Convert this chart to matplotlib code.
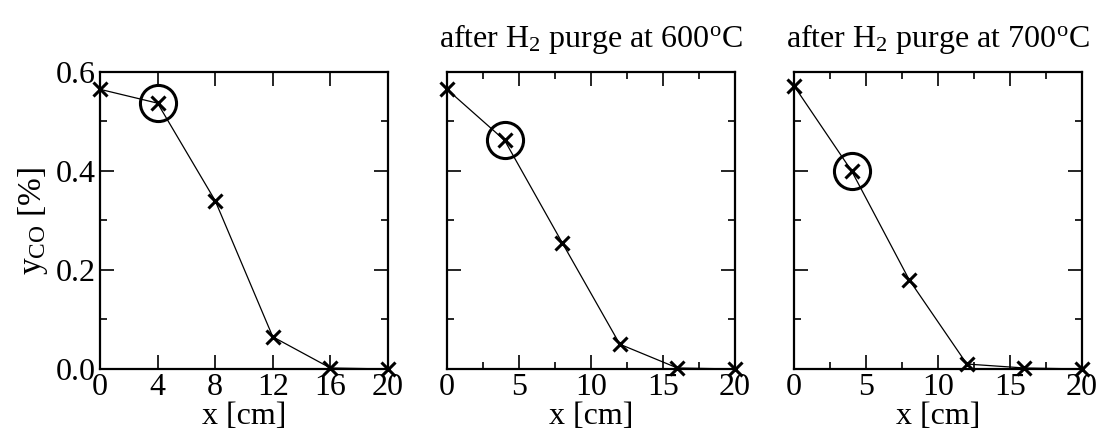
import numpy as np
import matplotlib
matplotlib.use("Agg")
import matplotlib.pyplot as plt
from matplotlib.ticker import MultipleLocator

plt.rcParams['font.family'] = 'Liberation Serif'
plt.rcParams['mathtext.fontset'] = 'custom'
plt.rcParams['mathtext.rm'] = 'Liberation Serif'
plt.rcParams['mathtext.it'] = 'Liberation Serif:italic'

# CO fraction along the bed for the three runs
x_cm = [0, 4, 8, 12, 16, 20]
y_fresh = [0.565, 0.537, 0.340, 0.065, 0.002, 0.0]
y_600 = [0.565, 0.462, 0.255, 0.050, 0.002, 0.0]
y_700 = [0.572, 0.400, 0.180, 0.010, 0.002, 0.0]
highlight = 1  # index of the circled point

titles = ['', r'after H$_2$ purge at 600$^{\rm o}$C', r'after H$_2$ purge at 700$^{\rm o}$C']
series = [y_fresh, y_600, y_700]

fig = plt.figure(figsize=(11.01, 4.30), dpi=100)
lefts = [0.0908, 0.406, 0.7212]

for i, (yv, ttl) in enumerate(zip(series, titles)):
    ax = fig.add_axes([lefts[i], 0.1419, 0.2616, 0.6907])
    ax.plot(x_cm, yv, color='black', lw=0.9, marker='x', ms=10, mew=2.2,
            clip_on=False, zorder=3)
    ax.plot(x_cm[highlight], yv[highlight], marker='o', ms=26, mfc='none',
            mec='black', mew=2.2, ls='none', clip_on=False, zorder=3)
    ax.set_xlim(0, 20)
    ax.set_ylim(0, 0.6)
    if i == 0:
        ax.xaxis.set_major_locator(MultipleLocator(4))
        ax.set_ylabel(r'y$_{\rm CO}$ [%]', fontsize=24, labelpad=4)
    else:
        ax.xaxis.set_major_locator(MultipleLocator(5))
        ax.xaxis.set_minor_locator(MultipleLocator(2.5))
        ax.set_title(ttl, fontsize=23, pad=18)
    ax.yaxis.set_major_locator(MultipleLocator(0.2))
    ax.yaxis.set_minor_locator(MultipleLocator(0.1))
    if i == 0:
        ax.set_yticks([0.0, 0.2, 0.4, 0.6])
        ax.set_yticklabels(['0.0', '0.2', '0.4', '0.6'])
    else:
        ax.set_yticklabels([])
    ax.tick_params(which='both', direction='in', top=True, right=True,
                   labelsize=23, width=1.2)
    ax.tick_params(which='major', length=10, pad=3)
    ax.tick_params(which='minor', length=5)
    ax.set_xlabel('x [cm]', fontsize=23, labelpad=0)
    for s in ax.spines.values():
        s.set_linewidth(1.6)

fig.savefig('out.png', dpi=100)
